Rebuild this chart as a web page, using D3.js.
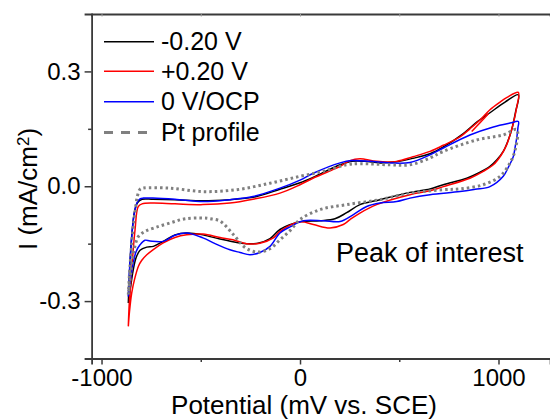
<!DOCTYPE html>
<html>
<head>
<meta charset="utf-8">
<script src="https://cdn.jsdelivr.net/npm/d3@7"></script>
<style>
  body { margin: 0; background: #fff; }
  svg { display: block; font-family: Arial, "Liberation Sans", sans-serif; }
</style>
</head>
<body>
<svg id="chart" width="550" height="419"></svg>
<script>
// потенциал в мВ, ток в мА/см2
const seriesNames = ["-0.20 V", "+0.20 V", "0 V/OCP", "Pt profile"];

const curveNeg020 = [
  [-865,-0.305],[-856,-0.197],[-846,-0.119],[-834,-0.067],[-819,-0.043],[-796,-0.034],[-741,-0.034],
  [-630,-0.035],[-489,-0.038],[-353,-0.035],[-237,-0.029],[-101,-0.008],[0,0.009],[65,0.023],
  [202,0.056],[262,0.065],[327,0.065],[403,0.061],[484,0.064],[569,0.073],[655,0.085],[720,0.102],
  [821,0.137],[892,0.168],[957,0.192],[1033,0.220],[1100,0.239],
  [1086,0.194],[1066,0.147],[1045,0.115],[1024,0.091],[992,0.069],[957,0.052],[897,0.034],[840,0.021],
  [722,0.004],[655,-0.007],[554,-0.016],[403,-0.035],[302,-0.048],[235,-0.069],[176,-0.085],
  [101,-0.090],[0,-0.093],[-101,-0.113],[-151,-0.137],[-212,-0.149],[-269,-0.150],[-338,-0.145],
  [-403,-0.138],[-489,-0.127],[-571,-0.122],[-630,-0.127],[-689,-0.144],[-739,-0.157],[-772,-0.159],
  [-806,-0.167],[-826,-0.187],[-840,-0.218],[-854,-0.265],[-865,-0.305]
];

const curvePos020 = [
  [-865,-0.366],[-860,-0.304],[-848,-0.218],[-831,-0.113],[-815,-0.053],[-796,-0.046],[-741,-0.044],
  [-630,-0.046],[-489,-0.048],[-353,-0.044],[-237,-0.034],[-101,-0.018],[0,0.004],[65,0.021],
  [202,0.052],[252,0.067],[302,0.072],[386,0.065],[487,0.065],[569,0.077],[655,0.091],[722,0.107],
  [806,0.129],[856,0.150],[907,0.173],[957,0.200],[1008,0.220],[1043,0.232],[1100,0.245],
  [1091,0.205],[1075,0.165],[1058,0.134],[1041,0.108],[1013,0.081],[974,0.056],[917,0.037],[856,0.021],
  [722,-0.001],[655,-0.012],[554,-0.022],[386,-0.048],[302,-0.070],[252,-0.087],[218,-0.100],
  [151,-0.109],[67,-0.100],[0,-0.093],[-101,-0.118],[-134,-0.135],[-202,-0.149],[-269,-0.150],
  [-338,-0.140],[-403,-0.134],[-489,-0.125],[-571,-0.127],[-630,-0.134],[-689,-0.148],[-741,-0.166],
  [-772,-0.179],[-798,-0.194],[-814,-0.209],[-834,-0.244],[-848,-0.279],[-859,-0.327],[-865,-0.366]
];

// короткий кусок красной кривой около 900 мВ
const curvePos020Extra = [[865,0.143],[907,0.166],[950,0.190]];

const curveOCP = [
  [-865,-0.288],[-859,-0.218],[-849,-0.140],[-836,-0.074],[-821,-0.043],[-806,-0.033],[-789,-0.031],
  [-741,-0.031],[-630,-0.034],[-489,-0.040],[-353,-0.035],[-237,-0.027],[-101,-0.005],[0,0.016],
  [67,0.034],[202,0.061],[260,0.067],[353,0.065],[453,0.061],[554,0.062],[655,0.082],[722,0.100],
  [856,0.134],[974,0.155],[1058,0.165],[1100,0.169],
  [1098,0.153],[1093,0.130],[1084,0.103],[1075,0.078],[1051,0.051],[1024,0.026],[957,-0.001],
  [882,-0.008],[806,-0.014],[655,-0.022],[554,-0.031],[487,-0.040],[403,-0.044],[336,-0.053],
  [269,-0.074],[202,-0.092],[117,-0.090],[17,-0.090],[-50,-0.106],[-101,-0.122],[-151,-0.157],
  [-202,-0.173],[-252,-0.179],[-302,-0.173],[-353,-0.166],[-428,-0.150],[-489,-0.135],[-571,-0.122],
  [-630,-0.128],[-689,-0.144],[-756,-0.143],[-781,-0.141],[-806,-0.153],[-826,-0.171],[-840,-0.200],
  [-854,-0.244],[-865,-0.288]
];

const curvePt = [
  [-865,-0.283],[-856,-0.205],[-844,-0.127],[-831,-0.067],[-819,-0.025],[-806,-0.008],[-791,-0.005],
  [-655,-0.005],[-489,-0.014],[-319,-0.009],[-151,0.008],[0,0.026],[117,0.039],[235,0.056],
  [302,0.059],[453,0.056],[554,0.056],[655,0.074],[722,0.091],[890,0.121],[1024,0.134],[1092,0.148],
  [1084,0.095],[1058,0.061],[1008,0.026],[923,0.004],[806,-0.007],[722,-0.009],[554,-0.018],
  [403,-0.035],[235,-0.048],[101,-0.061],[0,-0.087],[-50,-0.116],[-101,-0.140],[-151,-0.163],
  [-217,-0.172],[-277,-0.160],[-336,-0.126],[-403,-0.091],[-453,-0.085],[-487,-0.083],[-579,-0.085],
  [-655,-0.096],[-730,-0.108],[-781,-0.118],[-814,-0.131],[-836,-0.166],[-851,-0.218],[-865,-0.283]
];

const xMajorTicks = [-1000, 0, 1000];
const xMinorTicks = [-500, 500];
const yMajorTicks = [-0.3, 0, 0.3];
const yMinorTicks = [-0.15, 0.15];
const annotation = "Peak of interest";

const svg = d3.select("#chart");
const axisColor = "#3a3a3a";

const x = d3.scaleLinear().domain([-1050, 1260]).range([91.6, 550.1]);
const y = d3.scaleLinear().domain([-0.45, 0.45]).range([358.5, 14]);

const line = d3.line()
  .x(d => x(d[0]))
  .y(d => y(d[1]))
  .curve(d3.curveCatmullRom.alpha(0.5));

// кривые
const series = [
  { data: curveNeg020, color: "#000000", width: 1.5, dash: null },
  { data: curvePos020, color: "#ff0000", width: 1.5, dash: null },
  { data: curvePos020Extra, color: "#ff0000", width: 1.5, dash: null },
  { data: curveOCP, color: "#0000ff", width: 1.5, dash: null },
  { data: curvePt, color: "#808080", width: 3, dash: "2.5,3" }
];

const plot = svg.append("g");
plot.selectAll("path")
  .data(series)
  .join("path")
  .attr("d", d => line(d.data))
  .attr("fill", "none")
  .attr("stroke", d => d.color)
  .attr("stroke-width", d => d.width)
  .attr("stroke-dasharray", d => d.dash)
  .attr("stroke-linejoin", "round");

// оси
function styleAxis(g) {
  g.select(".domain").attr("stroke", axisColor).attr("stroke-width", 1.8);
  g.selectAll(".tick line").attr("stroke", axisColor).attr("stroke-width", 1.5);
  g.selectAll(".tick text")
    .attr("fill", "#000")
    .style("font-size", "24px")
    .style("font-family", 'Arial, "Liberation Sans", sans-serif');
}

svg.append("g")
  .attr("transform", `translate(0,${y(-0.45)})`)
  .call(d3.axisBottom(x).tickValues(xMajorTicks).tickSize(6).tickPadding(4).tickFormat(d => String(d)))
  .call(styleAxis);

svg.append("g")
  .attr("transform", `translate(0,${y(-0.45)})`)
  .call(d3.axisBottom(x).tickValues(xMinorTicks).tickSize(3.5).tickFormat(""))
  .call(g => g.select(".domain").remove())
  .call(styleAxis);

svg.append("g")
  .attr("transform", `translate(${x(-1050)},0)`)
  .call(d3.axisLeft(y).tickValues(yMajorTicks).tickSize(7).tickPadding(4).tickFormat(d => d.toFixed(1)))
  .call(styleAxis);

svg.append("g")
  .attr("transform", `translate(${x(-1050)},0)`)
  .call(d3.axisLeft(y).tickValues(yMinorTicks).tickSize(3.5).tickFormat(""))
  .call(g => g.select(".domain").remove())
  .call(styleAxis);

// верхняя рамка с мелкими рисками
svg.append("g")
  .attr("transform", `translate(0,${y(0.45)})`)
  .call(d3.axisTop(x).tickValues(xMajorTicks.concat(xMinorTicks)).tickSize(-2.5).tickFormat(""))
  .call(g => g.select(".domain").attr("stroke", axisColor).attr("stroke-width", 1.8))
  .call(g => g.selectAll(".tick line").attr("stroke", "#999").attr("stroke-width", 1));

// подписи осей
svg.append("text")
  .attr("x", 304)
  .attr("y", 414)
  .attr("text-anchor", "middle")
  .style("font-size", "26px")
  .text("Potential (mV vs. SCE)");

const yLabel = svg.append("text")
  .attr("transform", "translate(37,189) rotate(-90)")
  .attr("text-anchor", "middle")
  .style("font-size", "26px");
yLabel.append("tspan").text("I (mA/cm");
yLabel.append("tspan").attr("dy", "-0.45em").style("font-size", "17px").text("2");
yLabel.append("tspan").attr("dy", "0.3em").text(")");

// легенда
const legendRows = [
  { color: "#000000", width: 1.5, dash: null },
  { color: "#ff0000", width: 1.5, dash: null },
  { color: "#0000ff", width: 1.5, dash: null },
  { color: "#808080", width: 3, dash: "9,8" }
];
const legendY = [41.7, 71.3, 101.7, 132.5];

const legend = svg.append("g");
const row = legend.selectAll("g")
  .data(legendRows)
  .join("g")
  .attr("transform", (d, i) => `translate(0,${legendY[i]})`);

row.append("line")
  .attr("x1", 104).attr("x2", 154)
  .attr("stroke", d => d.color)
  .attr("stroke-width", d => d.width)
  .attr("stroke-dasharray", d => d.dash);

row.append("text")
  .attr("x", 161)
  .attr("y", 8.5)
  .style("font-size", "25px")
  .text((d, i) => seriesNames[i]);

svg.append("text")
  .attr("x", 336)
  .attr("y", 262)
  .style("font-size", "27px")
  .text(annotation);
</script>
</body>
</html>
